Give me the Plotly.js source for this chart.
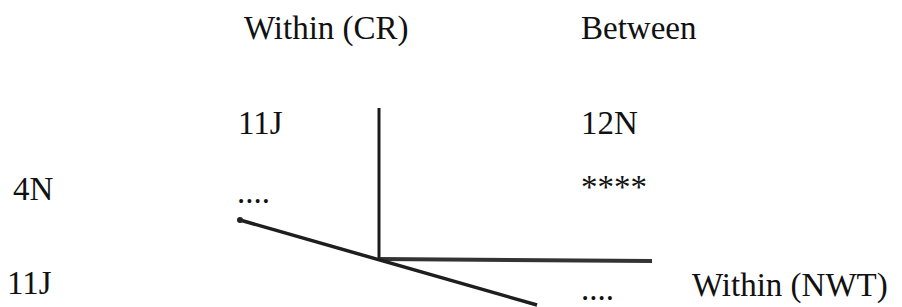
<!DOCTYPE html>
<html>
<head>
<meta charset="utf-8">
<script src="https://cdn.plot.ly/plotly-3.0.1.min.js"></script>
<style>html,body{margin:0;padding:0;background:#fff;}#chart{width:902px;height:307px;}</style>
</head>
<body>
<div id="chart"></div>
<script>
// Diagram geometry (page-pixel coordinate system of the original figure)
var axisCR_x = [379, 379];        // vertical axis: Within (CR)
var axisCR_y = [108, 259];
var axisNWT_x = [379, 652];       // horizontal axis: Within (NWT)
var axisNWT_y = [259, 261];
var axisBetween_x = [240, 537];   // oblique axis: Between
var axisBetween_y = [220, 305];

// Labels
var labelText = ["Within (CR)", "Between", "11J", "12N", "4N", "....", "****", "11J", "....", "Within (NWT)"];
var labelX    = [244, 581, 238, 581, 13, 237, 581, 7, 581, 692];
var labelY    = [31, 31, 126, 126, 192, 195, 190, 286, 292, 288];

var traces = [
  {x: axisCR_x, y: axisCR_y, mode: "lines", line: {color: "#1a1a1a", width: 3}, hoverinfo: "skip"},
  {x: axisNWT_x, y: axisNWT_y, mode: "lines", line: {color: "#333333", width: 4}, hoverinfo: "skip"},
  {x: axisBetween_x, y: axisBetween_y, mode: "lines", line: {color: "#1e1e1e", width: 3.5}, hoverinfo: "skip"},
  {x: [axisBetween_x[0]], y: [axisBetween_y[0]], mode: "markers", marker: {color: "#222", size: 6}, hoverinfo: "skip"},
  {x: labelX, y: labelY, mode: "text", text: labelText, textposition: "middle right",
   textfont: {family: "Liberation Serif, Times New Roman, serif", size: 33, color: "#111"}, hoverinfo: "skip"}
];

var layout = {
  width: 902, height: 307,
  margin: {l: 0, r: 0, t: 0, b: 0},
  paper_bgcolor: "#ffffff", plot_bgcolor: "#ffffff",
  showlegend: false,
  xaxis: {range: [0, 902], visible: false, fixedrange: true},
  yaxis: {range: [307, 0], visible: false, fixedrange: true}
};

Plotly.newPlot("chart", traces, layout, {displayModeBar: false, staticPlot: true});
</script>
</body>
</html>
